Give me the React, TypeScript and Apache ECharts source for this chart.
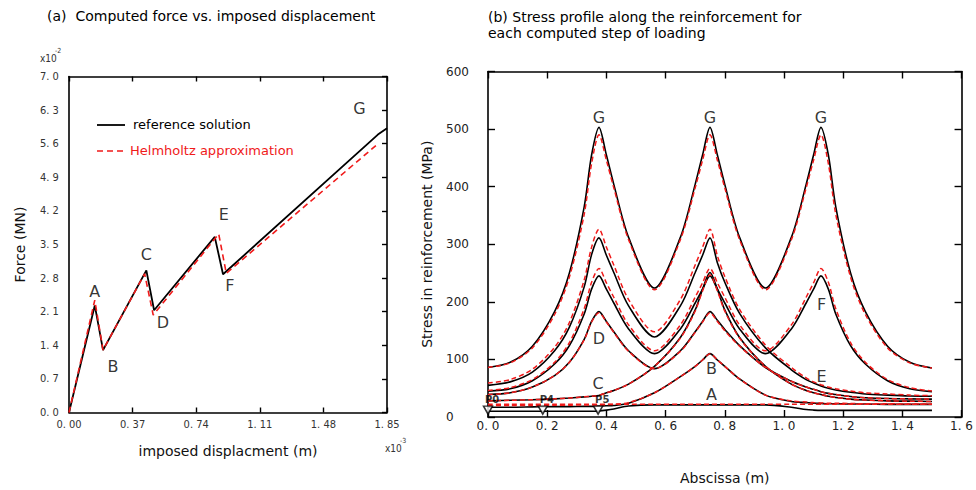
import React, { useEffect, useRef } from "react";
import * as echarts from "echarts";

const FONT = "'DejaVu Sans', sans-serif";
const NARROW = "'Liberation Sans Narrow', 'DejaVu Sans Condensed', 'DejaVu Sans', sans-serif";
const RED = "#f01a1a";

// ---------- (a) force vs displacement ----------
const dispRef = [0, 0.15, 0.198, 0.45, 0.495, 0.848, 0.896, 1.797, 1.85];
const forceRef = [0, 2.23, 1.3, 2.96, 2.13, 3.66, 2.88, 5.79, 5.92];
const dispApp = [0, 0.15, 0.198, 0.44, 0.49, 0.871, 0.915, 1.788];
const forceApp = [0, 2.34, 1.3, 2.89, 2.03, 3.72, 2.9, 5.57];
const leftLetters = ["A", "B", "C", "D", "E", "F", "G"];
const leftLetterX = [0.15, 0.256, 0.45, 0.547, 0.9, 0.935, 1.69];
const leftLetterY = [2.52, 0.95, 3.3, 1.87, 4.13, 2.65, 6.34];
const legendNames = ["reference solution", "Helmholtz approximation"];

// ---------- (b) stress profiles ----------
const abscissa = [0, 0.075, 0.15, 0.225, 0.275, 0.325, 0.35, 0.375, 0.4, 0.425, 0.475, 0.5625, 0.65, 0.7, 0.725, 0.75, 0.775, 0.8, 0.85, 0.9375, 1.025, 1.075, 1.1, 1.125, 1.15, 1.175, 1.225, 1.275, 1.35, 1.425, 1.5];
const refG = [86, 95, 123, 183, 250, 365, 455, 503, 455, 404, 312, 224, 312, 404, 455, 503, 455, 404, 312, 224, 312, 404, 455, 503, 455, 365, 250, 183, 123, 95, 85];
const appG = [86, 94, 120, 178, 243, 352, 440, 490, 446, 398, 308, 221, 308, 398, 446, 490, 446, 398, 308, 221, 308, 398, 446, 490, 440, 352, 243, 178, 120, 94, 85];
const refF = [45, 49, 63, 92, 124, 179, 222, 245, 222, 198, 153, 110, 153, 198, 222, 245, 222, 198, 153, 110, 153, 198, 222, 245, 222, 179, 124, 92, 63, 49, 44];
const appF = [46, 51, 65, 95, 129, 188, 234, 258, 233, 208, 160, 115, 160, 208, 233, 258, 233, 208, 160, 115, 160, 208, 233, 258, 234, 188, 129, 95, 65, 51, 45];
const refE = [55, 61, 78, 115, 156, 226, 282, 311, 281, 251, 193, 139, 193, 251, 281, 311, 268, 234, 180, 120, 82, 65, 59, 54, 50, 47, 43, 40, 38, 36.5, 36];
const appE = [59, 65, 83, 121, 164, 238, 295, 326, 295, 264, 204, 148, 204, 264, 295, 326, 280, 244, 187, 125, 86, 68, 61, 56, 52, 49, 45, 42, 40, 38, 37];
const refD = [39, 42, 52, 72, 95, 135, 166, 183, 166, 148, 115, 84, 115, 148, 166, 183, 168, 152, 124, 86, 62, 52, 48, 44, 41, 39, 35.5, 33.5, 32, 31.5, 31];
const appD = [39, 42, 52, 72, 95, 134, 165, 181, 165, 147, 114, 84, 114, 147, 165, 181, 166, 150, 123, 86, 62, 52, 48, 44, 41, 39, 35.5, 33.5, 32, 31.5, 31];
const refC = [28, 29, 30, 31.5, 33, 35, 36, 37.5, 42, 46, 57, 88, 138, 186, 222, 251, 222, 186, 138, 88, 57, 46, 42, 39, 36, 34, 31, 29.5, 28, 27.5, 27];
const appC = [28, 29, 30, 31.5, 33, 35, 36, 37.5, 42, 46, 57, 88, 137, 184, 219, 247, 219, 184, 137, 88, 57, 46, 42, 39, 36, 34, 31, 29.5, 28, 27.5, 27];
const refB = [17, 17, 17.5, 18, 18, 18.5, 18.5, 19, 19.5, 20, 24, 42, 70, 88, 99, 110, 99, 88, 66, 38, 27, 25, 24, 23.5, 23, 23, 22.5, 22.5, 22, 22, 22];
const appB = [20, 20, 20, 20.5, 20.5, 21, 21, 21, 21.5, 22, 25, 42, 70, 88, 99, 110, 99, 88, 66, 38, 28, 26, 25, 24.5, 24, 24, 23.5, 23, 23, 22.5, 22.5];
const refA = [10, 10, 10, 10, 10, 10, 10, 10.5, 12, 14, 19, 21, 21, 21, 21, 21, 21, 21, 21, 21, 17, 13, 12, 11.5, 11.5, 11.5, 11.5, 11.5, 11.5, 11.5, 11.5];
const appA = [22, 22, 22, 22, 22, 22, 22, 22, 22, 22, 22, 22, 22, 22, 22, 22, 22, 22, 22, 22, 22, 22, 22, 22, 22, 22, 22, 22, 22, 22, 22];
const refProfiles = [refA, refB, refC, refD, refE, refF, refG];
const appProfiles = [appA, appB, appC, appD, appE, appF, appG];

const markerNames = ["P0", "P4", "P5"];
const markerX = [0, 0.185, 0.372];
const markerY = [12, 12, 12];

const rightLetters = ["G", "G", "G", "F", "E", "D", "C", "B", "A"];
const rightLetterX = [0.375, 0.75, 1.125, 1.127, 1.127, 0.375, 0.372, 0.755, 0.755];
const rightLetterY = [520, 520, 520, 196, 71, 135.5, 58.8, 84.8, 38.6];

const zip = (xs: number[], ys: number[]) => xs.map((x, i) => [x, ys[i]]);
const spaced = (v: number, d: number) => v.toFixed(d).replace(".", ". ");

export default function App() {
  const ref = useRef<HTMLDivElement>(null);
  useEffect(() => {
    if (!ref.current) return;
    const chart = echarts.init(ref.current, null, { renderer: "svg" });
    const frame = { show: true, onZero: false, lineStyle: { color: "#000", width: 1.6 } };
    const series: any[] = [];
    series.push({
      name: legendNames[0], type: "line", xAxisIndex: 0, yAxisIndex: 0,
      data: zip(dispRef, forceRef), symbol: "none", showSymbol: false,
      lineStyle: { color: "#000", width: 1.8 }, itemStyle: { color: "#000" },
    });
    series.push({
      name: legendNames[1], type: "line", xAxisIndex: 0, yAxisIndex: 0,
      data: zip(dispApp, forceApp), symbol: "none", showSymbol: false,
      lineStyle: { color: RED, width: 1.6, type: [6, 4] }, itemStyle: { color: RED },
    });
    series.push({
      name: "letters-a", type: "scatter", xAxisIndex: 0, yAxisIndex: 0, symbolSize: 0.1,
      itemStyle: { color: "transparent" },
      label: { show: true, position: "inside", formatter: "{b}", fontSize: 16, color: "#000", fontFamily: FONT },
      data: leftLetters.map((n, i) => ({ name: n, value: [leftLetterX[i], leftLetterY[i]] })),
    });
    refProfiles.forEach((p, i) => {
      series.push({
        name: "ref" + i, type: "line", xAxisIndex: 2, yAxisIndex: 2, data: zip(abscissa, p),
        symbol: "none", showSymbol: false, smooth: 0.3,
        lineStyle: { color: "#000", width: 1.6 },
      });
    });
    appProfiles.forEach((p, i) => {
      series.push({
        name: "app" + i, type: "line", xAxisIndex: 2, yAxisIndex: 2, data: zip(abscissa, p),
        symbol: "none", showSymbol: false, smooth: 0.3,
        lineStyle: { color: RED, width: 1.5, type: [5, 3] },
      });
    });
    series.push({
      name: "markers", type: "scatter", xAxisIndex: 2, yAxisIndex: 2,
      symbol: "triangle", symbolRotate: 180, symbolSize: [9, 8],
      itemStyle: { color: "#fff", borderColor: "#000", borderWidth: 1.5 },
      label: { show: true, position: "top", align: "left", offset: [-3, 4], formatter: "{b}", fontSize: 10, fontWeight: "bold", color: "#000", fontFamily: FONT },
      data: markerNames.map((n, i) => ({ name: n, value: [markerX[i], markerY[i]] })),
      z: 5,
    });
    series.push({
      name: "letters-b", type: "scatter", xAxisIndex: 2, yAxisIndex: 2, symbolSize: 0.1,
      itemStyle: { color: "transparent" },
      label: { show: true, position: "inside", formatter: "{b}", fontSize: 16, color: "#000", fontFamily: FONT },
      data: rightLetters.map((n, i) => ({ name: n, value: [rightLetterX[i], rightLetterY[i]] })),
    });

    chart.setOption({
      animation: false,
      textStyle: { fontFamily: FONT },
      title: [
        { text: "(a)  Computed force vs. imposed displacement", left: 47, top: 9, padding: 0,
          textStyle: { fontSize: 14, fontWeight: "normal", color: "#000", fontFamily: FONT } },
        { text: "(b) Stress profile along the reinforcement for\neach computed step of loading", left: 488, top: 9, padding: 0,
          textStyle: { fontSize: 14, fontWeight: "normal", color: "#000", fontFamily: FONT, lineHeight: 16 } },
      ],
      grid: [
        { left: 69, top: 76.5, width: 318, height: 336 },
        { left: 488, top: 71.5, width: 477, height: 347 },
      ],
      xAxis: [
        { gridIndex: 0, type: "value", position: "bottom", min: 0, max: 1.85, interval: 0.37,
          axisLine: frame, axisTick: { show: true, inside: true, length: 5, lineStyle: { color: "#000", width: 1.4 } },
          axisLabel: { margin: 6, fontSize: 11, color: "#333", fontFamily: NARROW, formatter: (v: number) => spaced(v, 2) },
          splitLine: { show: false },
          name: "imposed displacment (m)", nameLocation: "middle", nameGap: 31,
          nameTextStyle: { fontSize: 14, color: "#111", fontFamily: FONT } },
        { gridIndex: 0, type: "value", position: "top", min: 0, max: 1.85, interval: 0.37,
          axisLine: frame, axisTick: { show: true, inside: true, length: 5, lineStyle: { color: "#000", width: 1.4 } },
          axisLabel: { show: false }, splitLine: { show: false } },
        { gridIndex: 1, type: "value", position: "bottom", min: 0, max: 1.6, interval: 0.2,
          axisLine: frame, axisTick: { show: true, inside: true, length: 7, lineStyle: { color: "#000", width: 1.4 } },
          axisLabel: { margin: 3, fontSize: 12, color: "#222", fontFamily: FONT, formatter: (v: number) => spaced(v, 1) },
          splitLine: { show: false },
          name: "Abscissa (m)", nameLocation: "middle", nameGap: 54,
          nameTextStyle: { fontSize: 14, color: "#111", fontFamily: FONT } },
        { gridIndex: 1, type: "value", position: "top", min: 0, max: 1.6, interval: 0.2,
          axisLine: frame, axisTick: { show: true, inside: true, length: 7, lineStyle: { color: "#000", width: 1.4 } },
          axisLabel: { show: false }, splitLine: { show: false } },
      ],
      yAxis: [
        { gridIndex: 0, type: "value", position: "left", min: 0, max: 7, interval: 0.7,
          axisLine: frame, axisTick: { show: false },
          axisLabel: { align: "left", margin: 29, fontSize: 11, color: "#333", fontFamily: NARROW, formatter: (v: number) => spaced(v, 1) },
          splitLine: { show: false },
          name: "Force (MN)", nameLocation: "middle", nameGap: 42,
          nameTextStyle: { fontSize: 14, color: "#111", fontFamily: FONT } },
        { gridIndex: 0, type: "value", position: "right", min: 0, max: 7, interval: 0.7,
          axisLine: frame, axisTick: { show: true, inside: true, length: 5, lineStyle: { color: "#000", width: 1.4 } },
          axisLabel: { show: false }, splitLine: { show: false } },
        { gridIndex: 1, type: "value", position: "left", min: 0, max: 600, interval: 100,
          axisLine: frame, axisTick: { show: true, inside: true, length: 7, lineStyle: { color: "#000", width: 1.4 } },
          axisLabel: { align: "left", margin: 42, fontSize: 12, color: "#222", fontFamily: FONT },
          splitLine: { show: false },
          name: "Stress in reinforcement (MPa)", nameLocation: "middle", nameGap: 54,
          nameTextStyle: { fontSize: 14, color: "#111", fontFamily: FONT } },
        { gridIndex: 1, type: "value", position: "right", min: 0, max: 600, interval: 100,
          axisLine: frame, axisTick: { show: true, inside: true, length: 7, lineStyle: { color: "#000", width: 1.4 } },
          axisLabel: { show: false }, splitLine: { show: false } },
      ],
      graphic: [
        { type: "line", shape: { x1: 97, y1: 125, x2: 125, y2: 125 }, style: { stroke: "#000", lineWidth: 1.8 } },
        { type: "text", left: 133, top: 118, style: { text: legendNames[0], fontSize: 13, fill: "#000", fontFamily: FONT } },
        { type: "line", shape: { x1: 97, y1: 151, x2: 125, y2: 151 }, style: { stroke: RED, lineWidth: 1.6, lineDash: [6, 4] } },
        { type: "text", left: 130, top: 144, style: { text: legendNames[1], fontSize: 13, fill: RED, fontFamily: FONT } },
        { type: "text", left: 40, top: 53, style: { text: "x10", fontSize: 10, fill: "#333", fontFamily: NARROW } },
        { type: "text", left: 55, top: 47, style: { text: "-2", fontSize: 7, fill: "#333", fontFamily: NARROW } },
        { type: "text", left: 385, top: 443, style: { text: "x10", fontSize: 10, fill: "#333", fontFamily: NARROW } },
        { type: "text", left: 400, top: 437, style: { text: "-3", fontSize: 7, fill: "#333", fontFamily: NARROW } },
      ],
      series,
    });
    return () => chart.dispose();
  }, []);
  return <div ref={ref} style={{ position: "fixed", left: 0, top: 0, width: 976, height: 490, background: "#fff" }} />;
}
